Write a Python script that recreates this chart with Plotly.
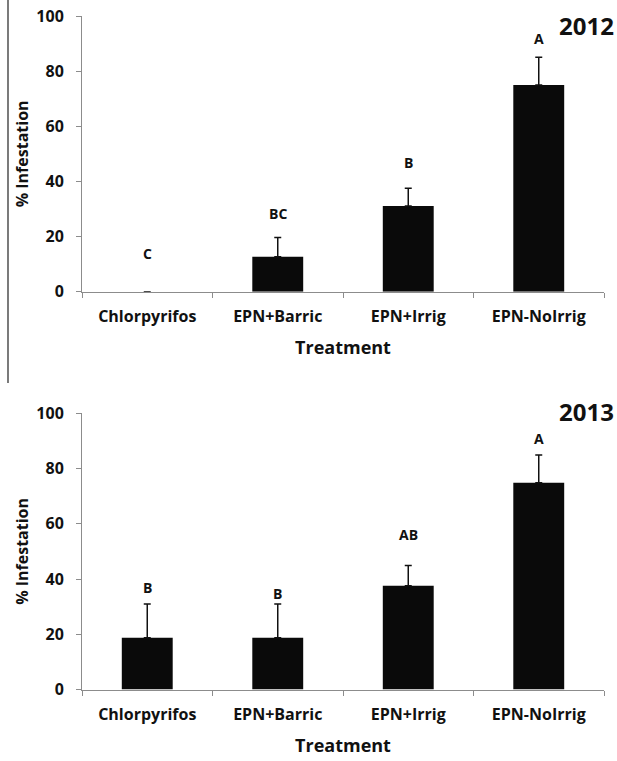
import plotly.graph_objects as go
from plotly.subplots import make_subplots

categories = ["Chlorpyrifos", "EPN+Barric", "EPN+Irrig", "EPN-NoIrrig"]
y_ticks = [0, 20, 40, 60, 80, 100]

# 2012 (no error bar shown for Chlorpyrifos)
values_2012 = [0.0, 12.7, 31.1, 75.0]
err_2012 = [None, 7.0, 6.4, 10.0]
letters_2012 = ["C", "BC", "B", "A"]
letter_y_2012 = [13.7, 28.2, 47.0, 91.7]

# 2013
values_2013 = [18.7, 18.7, 37.6, 74.9]
err_2013 = [12.3, 12.3, 7.3, 10.0]
letters_2013 = ["B", "B", "AB", "A"]
letter_y_2013 = [37.1, 34.6, 56.3, 91.0]

panels = [
    ("2012", values_2012, err_2012, letters_2012, letter_y_2012),
    ("2013", values_2013, err_2013, letters_2013, letter_y_2013),
]

W, H = 617, 761
FONT = "Open Sans"
AX = "#8c8c8c"
TXT = "#111111"

fig = make_subplots(rows=2, cols=1)

x_dom = [82 / W, 604 / W]
y_doms = [[1 - 291.7 / H, 1 - 16 / H], [1 - 689.5 / H, 1 - 413.3 / H]]
year_y = [26, 411.7]

for i, (year, vals, errs, letters, ly) in enumerate(panels):
    r = i + 1
    fig.add_trace(
        go.Bar(
            x=categories, y=vals, width=0.39,
            marker=dict(color="#0a0a0a", line=dict(width=0)),
            error_y=dict(type="data", symmetric=False, array=errs,
                         arrayminus=[None if e is None else 0 for e in errs],
                         color="#111111", thickness=1.5, width=3.5),
            showlegend=False,
        ),
        row=r, col=1,
    )
    xa = "x" if r == 1 else "x2"
    ya = "y" if r == 1 else "y2"
    for c, t, yy in zip(categories, letters, ly):
        fig.add_annotation(x=c, y=yy, xref=xa, yref=ya, text=f"<b>{t}</b>", showarrow=False,
                           font=dict(family=FONT, size=14, color=TXT),
                           xanchor="center", yanchor="middle")
    fig.add_annotation(x=586 / W, y=1 - year_y[i] / H, xref="paper", yref="paper",
                       text=f"<b>{year}</b>", showarrow=False, xanchor="center", yanchor="middle",
                       font=dict(family=FONT, size=24, color=TXT))
    fig.update_xaxes(
        domain=x_dom, range=[-0.5, 3.5], showline=True, linecolor=AX, linewidth=1,
        ticks="outside", tickson="boundaries", ticklen=5, tickcolor=AX,
        showgrid=False, zeroline=False, automargin=False,
        tickvals=categories, ticktext=[f"<b>{c}</b>" for c in categories],
        tickfont=dict(family=FONT, size=16, color=TXT), ticklabelstandoff=10,
        title=dict(text="<b>Treatment</b>", font=dict(family=FONT, size=18, color=TXT),
                   standoff=15),
        row=r, col=1,
    )
    fig.update_yaxes(
        domain=y_doms[i], range=[0, 100], tickvals=y_ticks,
        ticktext=[f"<b>{v}</b>" for v in y_ticks],
        showline=True, linecolor=AX, linewidth=1, automargin=False,
        ticks="outside", ticklen=5, tickcolor=AX, showgrid=False, zeroline=False,
        tickfont=dict(family=FONT, size=16, color=TXT), ticklabelstandoff=9,
        title=dict(text="<b>% Infestation</b>", font=dict(family=FONT, size=16, color=TXT),
                   standoff=3),
        row=r, col=1,
    )

fig.add_shape(type="line", xref="paper", yref="paper", x0=8 / W, x1=8 / W,
              y0=1, y1=1 - 383 / H, line=dict(color="#222", width=1.2))

fig.update_layout(
    width=W, height=H, margin=dict(l=0, r=0, t=0, b=0),
    paper_bgcolor="white", plot_bgcolor="white",
    font=dict(family=FONT, color=TXT),
)

fig.write_html(
    "out.html",
    config={"displayModeBar": False},
    post_script="document.body.style.margin='0';document.body.style.overflow='hidden';",
)
